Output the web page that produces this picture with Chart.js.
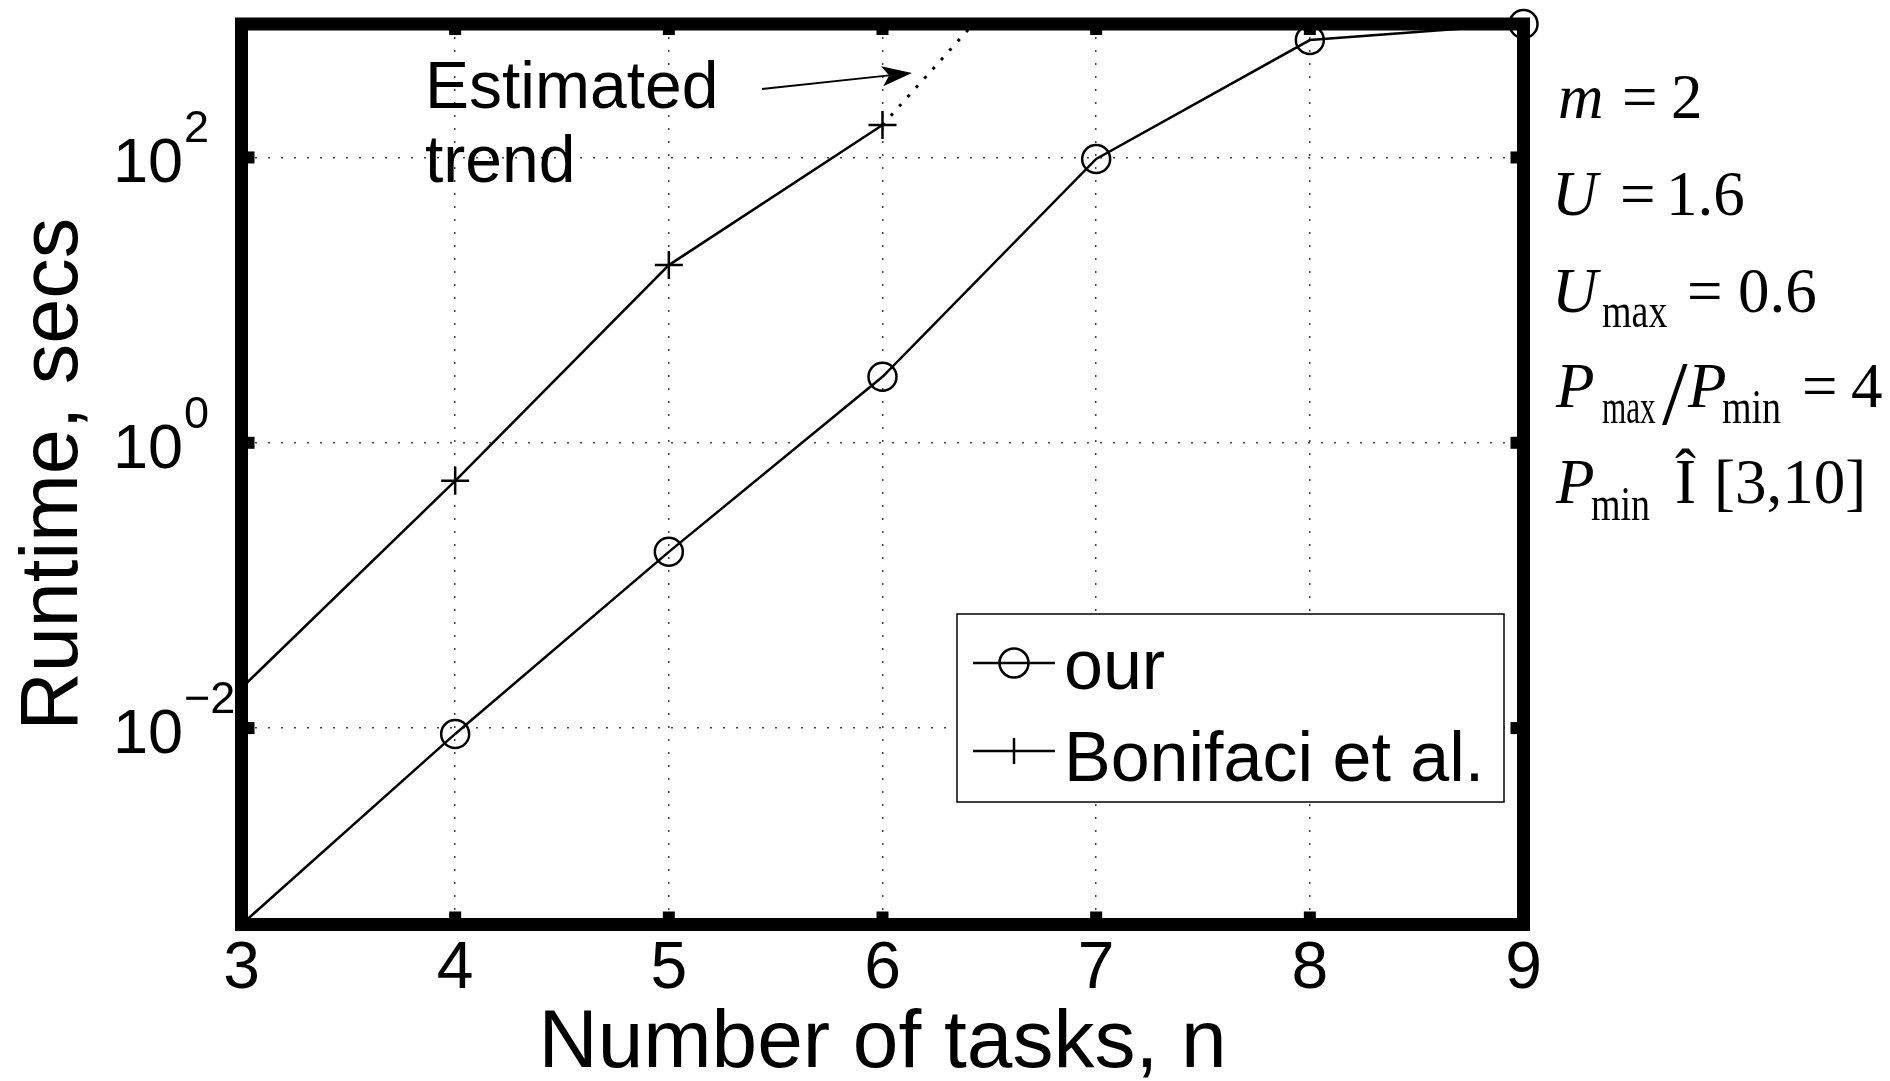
<!DOCTYPE html>
<html>
<head>
<meta charset="utf-8">
<script src="https://cdn.jsdelivr.net/npm/chart.js@4/dist/chart.umd.min.js"></script>
<style>
  html, body { margin: 0; padding: 0; background: #fff; }
  #wrap { width: 1890px; height: 1081px; }
</style>
</head>
<body>
<div id="wrap"><canvas id="runtimeChart" width="1890" height="1081"></canvas></div>
<script>
// Runtime (seconds) against number of tasks n
const taskCounts      = [3, 4, 5, 6, 7, 8, 9];
const ourRuntime      = [4.2e-4, 0.0091, 0.172, 2.90, 97.6, 665, 862];
const bonifaciTasks   = [3, 4, 5, 6];
const bonifaciRuntime = [0.0191, 0.541, 17.6, 169];
// extrapolated continuation of the Bonifaci et al. curve
const trendTasks      = [6, 7];
const trendRuntime    = [169, 7800];

const xRange      = [3, 9];
const yRange      = [4.2e-4, 862];
const yTickValues = [1e-2, 1, 1e2];
const seriesNames = ['our', 'Bonifaci et al.'];

const SANS  = '"Liberation Sans", Arial, Helvetica, sans-serif';
const SERIF = '"Liberation Serif", "Times New Roman", Times, serif';

function text(ctx, str, x, y, font, align, sy, sx) {
  ctx.save();
  ctx.font = font;
  ctx.textAlign = align || 'left';
  ctx.textBaseline = 'alphabetic';
  ctx.translate(x, y);
  ctx.scale(sx || 1, sy || 1);
  ctx.fillText(str, 0, 0);
  ctx.restore();
}

function exponentLabel(v) {
  const e = Math.round(Math.log10(v));
  return e < 0 ? '\u2212' + Math.abs(e) : String(e);
}

const figurePlugin = {
  id: 'figure',
  afterDatasetsDraw(chart) {
    const { ctx, chartArea: a, scales: { x, y } } = chart;
    ctx.save();

    // legend box
    const lg = { left: 957, top: 614, right: 1504, bottom: 802 };
    ctx.fillStyle = '#fff';
    ctx.fillRect(lg.left, lg.top, lg.right - lg.left, lg.bottom - lg.top);
    ctx.lineWidth = 1.5;
    ctx.strokeStyle = '#000';
    ctx.strokeRect(lg.left, lg.top, lg.right - lg.left, lg.bottom - lg.top);

    const rowY = [663, 751];
    ctx.lineWidth = 2.5;
    rowY.forEach((ry) => {
      ctx.beginPath();
      ctx.moveTo(973, ry);
      ctx.lineTo(1055, ry);
      ctx.stroke();
    });
    ctx.beginPath();
    ctx.arc(1014, rowY[0], 14.5, 0, Math.PI * 2);
    ctx.stroke();
    ctx.beginPath();
    ctx.moveTo(1014, rowY[1] - 13);
    ctx.lineTo(1014, rowY[1] + 13);
    ctx.stroke();
    ctx.fillStyle = '#000';
    text(ctx, seriesNames[0], 1064, 689, `70px ${SANS}`);
    text(ctx, seriesNames[1], 1064, 781, `70px ${SANS}`);

    // heavy axes box
    ctx.lineWidth = 13;
    ctx.lineJoin = 'miter';
    ctx.strokeStyle = '#000';
    ctx.strokeRect(a.left, a.top, a.right - a.left, a.bottom - a.top);

    // inward tick marks on all four sides
    const tl = 13, tw = 12;
    x.ticks.forEach((t) => {
      const px = x.getPixelForValue(t.value);
      ctx.fillRect(px - tw / 2, a.bottom - tl, tw, tl);
      ctx.fillRect(px - tw / 2, a.top, tw, tl - 2);
    });
    y.ticks.forEach((t) => {
      const py = y.getPixelForValue(t.value);
      ctx.fillRect(a.left, py - tw / 2, tl, tw);
      ctx.fillRect(a.right - tl, py - tw / 2, tl, tw);
    });
    ctx.restore();
  },
  afterDraw(chart) {
    const { ctx, chartArea: a, scales: { y } } = chart;
    ctx.save();
    ctx.fillStyle = '#000';
    ctx.strokeStyle = '#000';

    // log-axis labels as 10 with a raised exponent
    yTickValues.forEach((v) => {
      const py = y.getPixelForValue(v);
      text(ctx, '10', 183, py + 25, `63px ${SANS}`, 'right');
      text(ctx, exponentLabel(v), 184, py - 15, `45px ${SANS}`, 'left');
    });

    // axis titles
    text(ctx, 'Number of tasks, n', (a.left + a.right) / 2, 1067, `82px ${SANS}`, 'center');
    ctx.save();
    ctx.translate(77, (a.top + a.bottom) / 2);
    ctx.rotate(-Math.PI / 2);
    text(ctx, 'Runtime, secs', 0, 0, `81px ${SANS}`, 'center');
    ctx.restore();

    // trend annotation with arrow
    text(ctx, 'Estimated', 425, 108, `66px ${SANS}`);
    text(ctx, 'trend', 425, 182, `66px ${SANS}`);
    const x0 = 762, y0 = 89, x1 = 912, y1 = 73;
    const ang = Math.atan2(y1 - y0, x1 - x0);
    const hl = 30, hw = 10, notch = 7;
    const bx = x1 - hl * Math.cos(ang), by = y1 - hl * Math.sin(ang);
    ctx.lineWidth = 1.8;
    ctx.beginPath();
    ctx.moveTo(x0, y0);
    ctx.lineTo(bx + notch * Math.cos(ang), by + notch * Math.sin(ang));
    ctx.stroke();
    const nx = -Math.sin(ang), ny = Math.cos(ang);
    ctx.beginPath();
    ctx.moveTo(x1, y1);
    ctx.lineTo(bx + hw * nx, by + hw * ny);
    ctx.lineTo(bx + notch * Math.cos(ang), by + notch * Math.sin(ang));
    ctx.lineTo(bx - hw * nx, by - hw * ny);
    ctx.closePath();
    ctx.fill();

    // parameter block
    const big = `63px ${SERIF}`, bigIt = `italic 63px ${SERIF}`, sub = `38px ${SERIF}`;
    text(ctx, 'm', 1558, 118, bigIt);
    text(ctx, '=', 1622, 118, big);
    text(ctx, '2', 1671, 118, big);

    text(ctx, 'U', 1552, 215, bigIt);
    text(ctx, '=', 1620, 215, big);
    text(ctx, '1.6', 1666, 215, big);

    text(ctx, 'U', 1552, 312, bigIt);
    text(ctx, 'max', 1602, 327, sub, 'left', 1.3);
    text(ctx, '=', 1687, 312, big);
    text(ctx, '0.6', 1738, 312, big);

    text(ctx, 'P', 1556, 407, bigIt);
    text(ctx, 'max', 1602, 423, sub, 'left', 1.3, 0.82);
    text(ctx, '/', 1662, 424, `92px ${SERIF}`);
    text(ctx, 'P', 1688, 407, bigIt);
    text(ctx, 'min', 1722, 423, sub, 'left', 1.3);
    text(ctx, '=', 1802, 407, big);
    text(ctx, '4', 1851, 407, big);

    text(ctx, 'P', 1556, 503, bigIt);
    text(ctx, 'min', 1591, 520, sub, 'left', 1.3);
    text(ctx, '\u00CE', 1675, 503, big);
    text(ctx, '[3,10]', 1714, 503, big);

    ctx.restore();
  }
};

const gridStyle = { color: '#444', lineWidth: 1.5, drawTicks: false };
const borderStyle = { display: false, dash: [2, 11] };

new Chart(document.getElementById('runtimeChart'), {
  type: 'line',
  data: {
    datasets: [
      {
        label: seriesNames[0],
        data: taskCounts.map((n, i) => ({ x: n, y: ourRuntime[i] })),
        borderColor: '#000',
        borderWidth: 2.5,
        pointStyle: 'circle',
        pointRadius: (c) => (c.dataIndex === 0 ? 0 : 14),
        pointBorderWidth: 2.5,
        pointBorderColor: '#000',
        pointBackgroundColor: 'rgba(0,0,0,0)',
        tension: 0,
        clip: false
      },
      {
        label: seriesNames[1],
        data: bonifaciTasks.map((n, i) => ({ x: n, y: bonifaciRuntime[i] })),
        borderColor: '#000',
        borderWidth: 2.5,
        pointStyle: 'cross',
        pointRadius: (c) => (c.dataIndex === 0 ? 0 : 14),
        pointBorderWidth: 2.5,
        pointBorderColor: '#000',
        tension: 0,
        clip: false
      },
      {
        label: 'Estimated trend',
        data: trendTasks.map((n, i) => ({ x: n, y: trendRuntime[i] })),
        borderColor: '#000',
        borderWidth: 3,
        borderDash: [3, 9.5],
        pointRadius: 0,
        tension: 0
      }
    ]
  },
  options: {
    responsive: false,
    animation: false,
    devicePixelRatio: 1,
    layout: { padding: { top: 24, right: 366.5, left: 0, bottom: 0 } },
    plugins: { legend: { display: false }, tooltip: { enabled: false } },
    scales: {
      x: {
        type: 'linear',
        min: xRange[0],
        max: xRange[1],
        ticks: { stepSize: 1, color: '#000', font: { family: SANS, size: 66 }, padding: 6 },
        grid: gridStyle,
        border: borderStyle,
        afterFit(s) { s.height = 1081 - 924.5; }
      },
      y: {
        type: 'logarithmic',
        min: yRange[0],
        max: yRange[1],
        afterBuildTicks(s) { s.ticks = yTickValues.map((v) => ({ value: v })); },
        ticks: { display: false },
        grid: gridStyle,
        border: borderStyle,
        afterFit(s) { s.width = 241.5; }
      }
    }
  },
  plugins: [figurePlugin]
});
</script>
</body>
</html>
